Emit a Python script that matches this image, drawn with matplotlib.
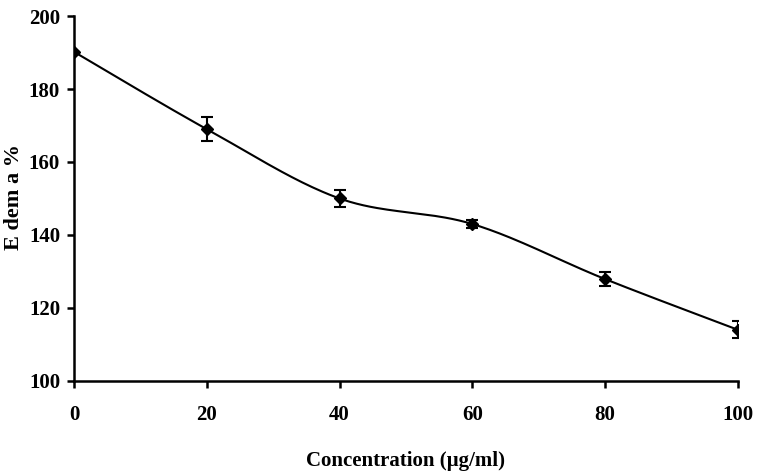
import matplotlib
matplotlib.use("Agg")
import matplotlib.pyplot as plt
import numpy as np

# data
conc = [0, 20, 40, 60, 80, 100]
edema = [190.2, 169.0, 150.0, 143.0, 127.9, 114.0]
err = [0.0, 3.3, 2.2, 1.0, 1.9, 2.3]

plt.rcParams['font.family'] = ['Liberation Serif', 'DejaVu Serif']
plt.rcParams['font.weight'] = 'bold'


def smooth_line(x, y, n=40):
    # Excel-style smoothed line: cubic Bezier with Catmull-Rom control points
    x = np.asarray(x, float)
    y = np.asarray(y, float)
    px = np.concatenate([[x[0]], x, [x[-1]]])
    py = np.concatenate([[y[0]], y, [y[-1]]])
    xs, ys = [], []
    t = np.linspace(0, 1, n)
    for i in range(1, len(px) - 2):
        p0 = np.array([px[i], py[i]])
        p3 = np.array([px[i + 1], py[i + 1]])
        c1 = p0 + (np.array([px[i + 1], py[i + 1]]) - np.array([px[i - 1], py[i - 1]])) / 6
        c2 = p3 - (np.array([px[i + 2], py[i + 2]]) - np.array([px[i], py[i]])) / 6
        b = (np.outer((1 - t) ** 3, p0) + np.outer(3 * (1 - t) ** 2 * t, c1)
             + np.outer(3 * (1 - t) * t ** 2, c2) + np.outer(t ** 3, p3))
        xs.extend(b[:, 0])
        ys.extend(b[:, 1])
    return np.array(xs), np.array(ys)


fig = plt.figure(figsize=(7.58, 4.72), dpi=100)
ax = fig.add_axes([0.0976, 0.193, 0.876, 0.773])

sx, sy = smooth_line(conc, edema)
ax.plot(sx, sy, color="black", lw=1.5, zorder=2)
ax.errorbar(conc, edema, yerr=err, fmt="D", color="black", ms=6,
            capsize=4, elinewidth=1.5, capthick=1.5, zorder=3)

ax.set_xlim(0, 100)
ax.set_ylim(100, 200)
ax.set_xticks(np.arange(0, 101, 20))
ax.set_yticks(np.arange(100, 201, 20))
ax.spines["top"].set_visible(False)
ax.spines["right"].set_visible(False)
for s in ["left", "bottom"]:
    ax.spines[s].set_linewidth(1.8)
ax.tick_params(axis="both", direction="out", width=1.8, length=5,
               labelsize=15)
ax.tick_params(axis="x", pad=12)
ax.tick_params(axis="y", pad=5)
for lab in ax.get_xticklabels() + ax.get_yticklabels():
    lab.set_fontweight("bold")

ax.set_xlabel("Concentration (µg/ml)", fontsize=15, fontweight="bold",
              labelpad=19)
fig.text(0.018, 0.583, "E dem a %", rotation=90, fontsize=16,
         fontweight="bold", ha="center", va="center")

plt.savefig("out.png", dpi=100)
